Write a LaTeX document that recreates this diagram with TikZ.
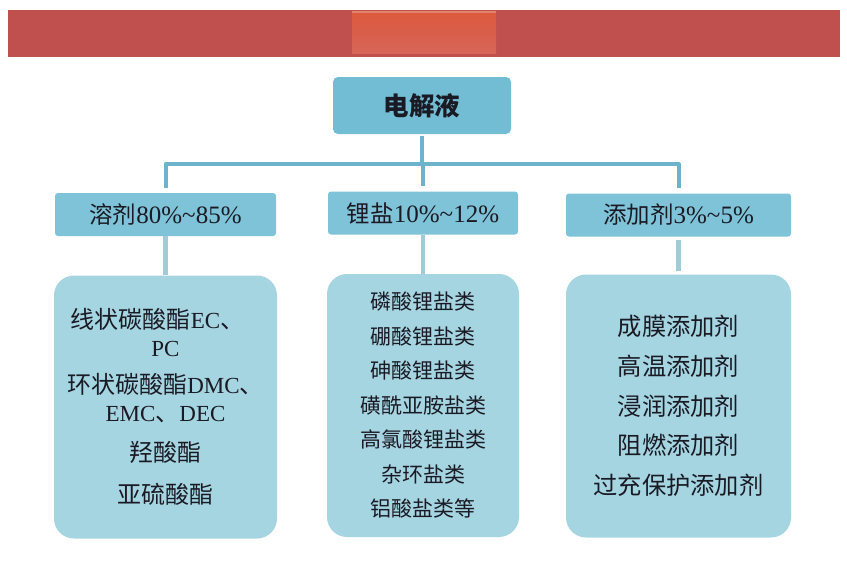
\documentclass[tikz,border=0pt]{standalone}
\usepackage{fontspec}
\setmainfont{Noto Sans CJK SC}
\newfontfamily\lat{Liberation Serif}
\newcommand\latin[2]{{\lat\fontsize{#1}{28}\selectfont #2}}
\definecolor{barred}{HTML}{C0504D}
\definecolor{glowtop}{HTML}{DC5A3C}
\definecolor{glowmid}{HTML}{D95E4A}
\definecolor{glowbot}{HTML}{D86658}
\definecolor{rootblue}{HTML}{72BDD4}
\definecolor{kindblue}{HTML}{7FC3D8}
\definecolor{leafblue}{HTML}{A6D5E2}
\definecolor{trunkblue}{HTML}{6CB3CB}
\definecolor{twigblue}{HTML}{A2CBD9}
\definecolor{ink}{HTML}{1A1A24}
\begin{document}
\begin{tikzpicture}[x=1pt,y=-1pt, line join=round, text=ink,
  root/.style={fill=rootblue, rounded corners=5pt, minimum width=178pt, minimum height=57pt, inner sep=0pt, font=\fontsize{25.5}{28}\selectfont\bfseries},
  kind/.style={fill=kindblue, rounded corners=3pt, minimum height=43pt, inner sep=0pt, font=\fontsize{23.5}{28}\selectfont},
  leaf/.style={fill=leafblue, rounded corners=20pt, minimum height=263pt, inner sep=0pt, align=center},
  trunk/.style={draw=trunkblue, line width=4pt},
  twig/.style={draw=twigblue, line width=4.5pt, shorten <=3pt, shorten >=3pt}]
\useasboundingbox (0,0) rectangle (847,563);
% title bar
\fill[barred] (8,10) rectangle (840,57);
\shade[top color=glowtop, bottom color=glowbot, middle color=glowmid] (352,11) rectangle (496,53);
\fill[white, opacity=.25] (352,11) rectangle (496,12.5);
% boxes
\node[root] (root) at (422,105.5) {电解液};
\node[kind, minimum width=221pt] (solv) at (165.5,214.5) {溶剂\latin{25}{80\%\textasciitilde85\%}};
\node[kind, minimum width=190pt] (salt) at (423,213) {锂盐\latin{25}{10\%\textasciitilde12\%}};
\node[kind, minimum width=225pt] (addi) at (678.5,215) {添加剂\latin{25}{3\%\textasciitilde5\%}};
\node[leaf, minimum width=223pt, font=\fontsize{24}{28}\selectfont] (solvl) at (165.5,407)
  {线状碳酸酯\latin{23}{EC}、\hspace*{16pt}\\\latin{23}{PC}\\[9pt]环状碳酸酯\latin{23}{DMC}、\hspace*{4pt}\\\latin{23}{EMC}、\latin{23}{DEC}\\[12pt]羟酸酯\\[14pt]亚硫酸酯};
\node[leaf, minimum width=192pt, font=\fontsize{21}{34.5}\selectfont] (saltl) at (423,405.5)
  {磷酸锂盐类\\硼酸锂盐类\\砷酸锂盐类\\磺酰亚胺盐类\\高氯酸锂盐类\\杂环盐类\\铝酸盐类等};
\node[leaf, minimum width=225pt, font=\fontsize{24.3}{39.75}\selectfont] (addil) at (678.5,406)
  {成膜添加剂\\高温添加剂\\浸润添加剂\\阻燃添加剂\\过充保护添加剂};
% connectors
\coordinate (bus) at (423,164);
\draw[trunk, shorten <=2pt] (root.south) -- (root.south |- bus);
\draw[trunk, shorten >=5pt] (bus) -- (salt.north);
\draw[trunk, shorten >=5pt] (bus) -| (solv.north);
\draw[trunk, shorten >=5pt] (bus) -| (addi.north);
\draw[twig] (solv) -- (solvl) (salt) -- (saltl) (addi) -- (addil);
\end{tikzpicture}
\end{document}
